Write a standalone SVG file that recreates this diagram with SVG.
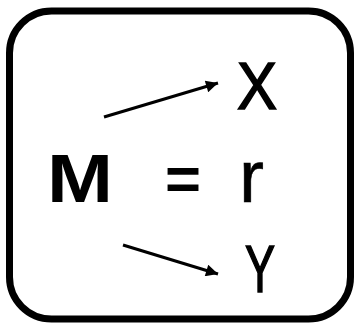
<svg xmlns="http://www.w3.org/2000/svg" width="358" height="325" viewBox="0 0 358 325">
<style>
.t{font-family:"Liberation Sans",Arial,sans-serif;fill:#000}
.h{stroke:#000;stroke-width:1.6}
.c{stroke:#000;stroke-width:3;fill:none}
</style>
<defs>
<marker id="ah" viewBox="0 0 10 10" refX="10" refY="5" markerWidth="16" markerHeight="12" markerUnits="userSpaceOnUse" orient="auto">
<path d="M0,0 L10,5 L0,10 z" fill="#000"/>
</marker>
</defs>
<rect x="9.5" y="11" width="341" height="308" rx="42" ry="42" fill="#fff" stroke="#000" stroke-width="7"/>
<g id="M"><text class="t" x="47" y="202" font-size="68" font-weight="bold" textLength="66" lengthAdjust="spacingAndGlyphs">M</text></g>
<g id="eq"><text class="t" x="165" y="200" font-size="62" font-weight="bold" textLength="36" lengthAdjust="spacingAndGlyphs">=</text></g>
<g id="r"><text class="t" x="239" y="202" font-size="74" textLength="25" lengthAdjust="spacingAndGlyphs" stroke="#000" stroke-width="0.6">r</text></g>
<g id="X"><text class="t h" x="237" y="109" font-size="66" textLength="40" lengthAdjust="spacingAndGlyphs">X</text></g>
<g id="Y"><text class="t h" x="245" y="292" font-size="66" textLength="30" lengthAdjust="spacingAndGlyphs">Y</text></g>
<g id="connectors">
<line class="c" x1="104" y1="117" x2="218" y2="83" marker-end="url(#ah)"/>
<line class="c" x1="123" y1="245" x2="218" y2="274" marker-end="url(#ah)"/>
</g>
</svg>
